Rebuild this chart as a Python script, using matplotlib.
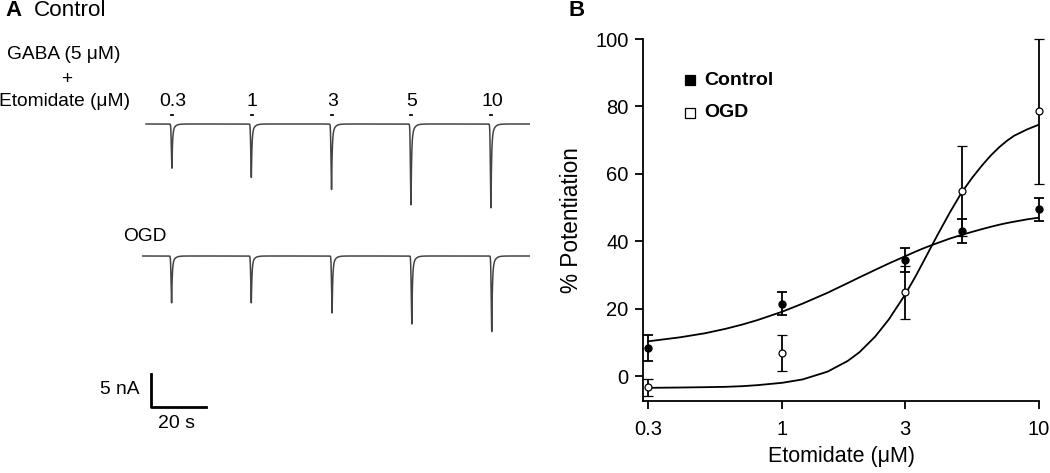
import numpy as np
import matplotlib.pyplot as plt

plt.rcParams['font.family'] = ['Liberation Sans', 'DejaVu Sans']

W, H = 1050, 473

# ---- Panel A: current traces (peak times in s, peak amplitudes in nA) ----
app_labels = ['0.3', '1', '3', '5', '10']
ctrl_peak_t = [63.2, 92.4, 121.9, 151.1, 180.5]
ctrl_peak_amp = [6.56, 7.92, 9.73, 12.0, 12.46]
ogd_peak_t = [63.1, 92.4, 122.1, 151.4, 180.8]
ogd_peak_amp = [6.96, 6.96, 8.47, 10.13, 11.23]

# ---- Panel B: dose response ----
conc = [0.3, 1, 3, 5, 10]
ctrl_mean = [8.4, 21.5, 34.4, 43.1, 49.5]
ctrl_err = [3.9, 3.5, 3.6, 3.5, 3.4]
ogd_mean = [-3.3, 6.9, 24.8, 55.0, 78.5]
ogd_err = [2.5, 5.3, 7.8, 13.4, 21.5]

# fitted curves
fit_conc = [0.3, 0.4, 0.5, 0.6, 0.7, 0.8, 1.0, 1.2, 1.5, 1.8, 2.0, 2.3,
            2.6, 3.0, 3.3, 3.6, 4.0, 4.5, 5.0, 5.5, 6.0, 6.5, 7.0, 7.5,
            8.0, 9.0, 10.0]
ctrl_fit = [10.3, 11.5, 12.7, 14.0, 15.3, 16.6, 19.1, 21.5, 24.7, 27.6, 29.3, 31.5,
            33.4, 35.5, 36.9, 38.1, 39.4, 40.8, 41.9, 42.8, 43.6, 44.3, 44.9, 45.4,
            45.8, 46.5, 47.0]
ogd_fit = [-3.5, -3.4, -3.3, -3.2, -3.0, -2.7, -2.0, -1.0, 1.3, 4.5, 7.1, 11.7,
           16.8, 24.0, 29.5, 34.9, 41.5, 48.6, 54.5, 58.9, 62.5, 65.5, 67.9, 69.8,
           71.3, 73.2, 74.6]

PX_PER_S = 2.72
PX_PER_NA = 6.74


def px(x, y):
    return x / W, 1 - y / H


fig = plt.figure(figsize=(W / 100, H / 100), dpi=100)

#
# Panel A
#
ax_a = fig.add_axes([0, 0, 530 / W, 1])
ax_a.set_xlim(0, 530 / PX_PER_S)
ax_a.set_ylim(-H / PX_PER_NA, 0)
ax_a.axis('off')


def trace(t0, t1, peak_t, peak_amp, base):
    t = np.linspace(t0, t1, 8000)
    y = np.zeros_like(t)
    for pt, amp in zip(peak_t, peak_amp):
        dt = t - pt
        rise = np.exp(-(dt / 0.28) ** 2)
        decay = 0.8 * np.exp(-dt / 0.22) + 0.2 * np.exp(-dt / 0.9)
        y -= amp * np.where(dt < 0, rise, decay)
    return t, base + y


t, y = trace(146 / PX_PER_S, 530 / PX_PER_S, ctrl_peak_t, ctrl_peak_amp, -124 / PX_PER_NA)
ax_a.plot(t, y, color='#444444', lw=1.1)
t, y = trace(142.7 / PX_PER_S, 530 / PX_PER_S, ogd_peak_t, ogd_peak_amp, -256 / PX_PER_NA)
ax_a.plot(t, y, color='#444444', lw=1.1)

# drug application marks and labels
for pt, lab in zip(ctrl_peak_t, app_labels):
    ax_a.plot([pt - 0.3, pt + 0.5], [-115.5 / PX_PER_NA] * 2, color='k', lw=1.3)
    ax_a.text(pt + 0.4, -102 / PX_PER_NA, lab, ha='center', va='center', fontsize=14)

# scale bar
ax_a.plot([151.2 / PX_PER_S, 151.2 / PX_PER_S, 205.6 / PX_PER_S],
          [-373.5 / PX_PER_NA, -407.2 / PX_PER_NA, -407.2 / PX_PER_NA], color='k', lw=2.0)

fig.text(*px(5, 11), 'A', fontsize=16, fontweight='bold', va='center', ha='left')
fig.text(*px(34, 11), 'Control', fontsize=16.2, va='center', ha='left')
fig.text(*px(63.5, 54.5), 'GABA (5 μM)', fontsize=13.8, va='center', ha='center')
fig.text(*px(67, 79), '+', fontsize=13.8, va='center', ha='center')
fig.text(*px(64.5, 102), 'Etomidate (μM)', fontsize=13.8, va='center', ha='center')
fig.text(*px(144.8, 236), 'OGD', fontsize=13.8, va='center', ha='center')
fig.text(*px(139.5, 389.5), '5 nA', fontsize=13.8, va='center', ha='right')
fig.text(*px(176.7, 423), '20 s', fontsize=14, va='center', ha='center')

#
# Panel B
#
ax_b = fig.add_axes([643 / W, (H - 401) / H, (1039 - 643) / W, (401 - 39) / H])
ax_b.set_xscale('log')
ax_b.set_xlim(0.2867, 10)
ax_b.set_ylim(-7.4, 100)

ax_b.plot(fit_conc, ctrl_fit, color='k', lw=1.3)
ax_b.plot(fit_conc, ogd_fit, color='k', lw=1.3)
ax_b.errorbar(conc, ctrl_mean, yerr=ctrl_err, fmt='o', color='k', ms=5,
              capsize=3.3, elinewidth=1.3, capthick=1.3, clip_on=False)
ax_b.errorbar(conc, ogd_mean, yerr=ogd_err, fmt='o', color='k', mfc='white', ms=5,
              mew=0.9, capsize=3.3, elinewidth=1.3, capthick=1.3, clip_on=False)

ax_b.spines['top'].set_visible(False)
ax_b.spines['right'].set_visible(False)
for s in ('left', 'bottom'):
    ax_b.spines[s].set_linewidth(1.3)
ax_b.set_xticks([0.3, 1, 3, 10])
ax_b.set_xticklabels(['0.3', '1', '3', '10'])
ax_b.minorticks_off()
ax_b.set_yticks([0, 20, 40, 60, 80, 100])
ax_b.tick_params(direction='out', length=5.5, width=1.3, labelsize=14.5)
ax_b.tick_params(axis='x', pad=8)
ax_b.tick_params(axis='y', pad=5)
ax_b.set_xlabel('Etomidate (μM)', fontsize=15.5, labelpad=5)
ax_b.set_ylabel('% Potentiation', fontsize=16.3, labelpad=9)

# legend drawn by hand to match the original placement
legend_rows = [('Control', 'k', 0.8867), ('OGD', 'white', 0.7956)]
for lab, face, ypos in legend_rows:
    ax_b.plot([0.1187], [ypos], marker='s', ms=7, color='k', mfc=face, mew=0.9,
              transform=ax_b.transAxes, clip_on=False)
    ax_b.text(0.154, ypos, lab, transform=ax_b.transAxes, va='center', ha='left',
              fontsize=14, fontweight='bold')

fig.text(*px(568, 11), 'B', fontsize=16, fontweight='bold', va='center', ha='left')

fig.savefig('out.png', dpi=100)
